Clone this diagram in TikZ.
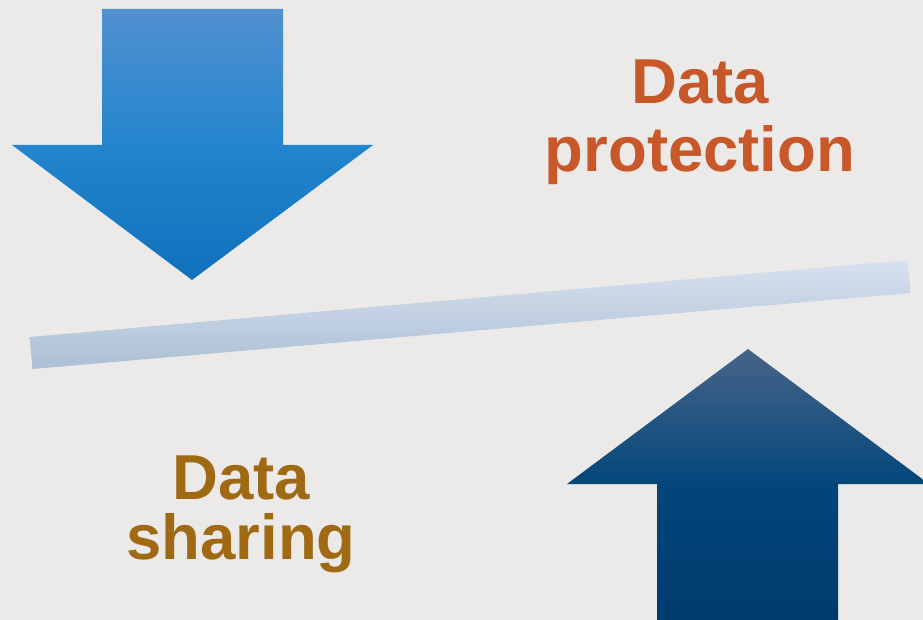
\documentclass[tikz,border=0pt]{standalone}
\usepackage{fontspec}
\setmainfont{Liberation Sans}
\definecolor{bg}{HTML}{EBEAE8}
\definecolor{topA}{HTML}{5191D0}
\definecolor{midA}{HTML}{2385CE}
\definecolor{botA}{HTML}{1070BC}
\definecolor{topB}{HTML}{476488}
\definecolor{midB}{HTML}{02467A}
\definecolor{botB}{HTML}{003A6D}
\definecolor{barT}{HTML}{D7E1F0}
\definecolor{barB}{HTML}{ADBFD5}
\definecolor{prot}{HTML}{C85829}
\definecolor{share}{HTML}{A06A14}
\tikzset{
  lbl/.style={inner sep=0pt, anchor=base, font=\bfseries\fontsize{63.5}{63.5}\selectfont},
}
\begin{document}
\begin{tikzpicture}[x=1pt,y=-1pt]
\fill[bg] (0,0) rectangle (923,620);
\clip (0,0) rectangle (923,620);
% top (down) arrow
\shade[top color=topA, bottom color=botA, middle color=midA]
  (102,9) -- (283,9) -- (283,145) -- (373,145) -- (192,280) -- (12,145) -- (102,145) -- cycle;
% bottom (up) arrow
\shade[top color=topB, bottom color=botB, middle color=midB]
  (748,349) -- (929,484) -- (838,484) -- (838,625) -- (657,625) -- (657,484) -- (567,484) -- cycle;
% bar
\shade[top color=barT, bottom color=barB]
  (29.5,337) -- (907.5,260) -- (910.5,293) -- (32.5,369) -- cycle;
% labels
\node[lbl, text=prot] (dp) at (700,104) {Data};
\node[lbl, text=prot] (pr) at (700,172) {protection};
\node[lbl, text=share] (ds) at (241,499) {Data};
\node[lbl, text=share] (sh) at (241,559) {sharing};
\end{tikzpicture}
\end{document}
